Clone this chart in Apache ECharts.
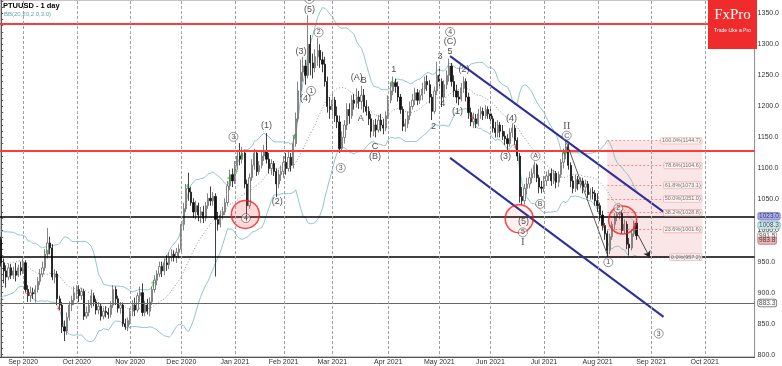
<!DOCTYPE html>
<html><head><meta charset="utf-8">
<script src="https://cdn.jsdelivr.net/npm/echarts@6/dist/echarts.min.js"></script>
<style>html,body{margin:0;padding:0;background:#fff}#c{width:782px;height:366px}</style>
</head><body><div id="c"></div>
<script>
const chartTitle = 'PTUUSD - 1 day';
const indicatorName = 'BB(20,20,2.0,3.0)';
const startDate = '2020-08-19';
const categoryCount = 310;
const holidays = ['2020-12-25', '2021-01-01', '2021-04-02'];
const monthNames = ['Jan','Feb','Mar','Apr','May','Jun','Jul','Aug','Sep','Oct','Nov','Dec'];

// [open, close, low, high]
const candles = [
[985,948,942,990],[948,935,915,955],[935,925,908,944],[925,940,920,947],[940,928,922,946],[928,935,922,942],[935,928,918,948],[928,940,925,945],[940,935,928,950],[935,948,930,955],
[948,905,900,952],[905,895,885,912],[895,900,885,910],[900,898,890,908],[898,905,884,912],[905,918,900,925],[918,930,912,938],[930,940,925,950],[940,962,935,970],[962,980,955,1004],
[980,972,962,990],[972,925,920,978],[925,930,915,938],[930,890,880,935],[890,880,872,895],[880,845,835,885],[845,838,822,855],[838,860,832,868],[860,880,855,886],[880,888,870,895],
[888,900,880,910],[900,905,890,912],[905,895,885,912],[895,902,888,908],[902,862,856,906],[862,868,858,878],[868,880,862,888],[880,895,875,905],[895,885,878,900],[885,872,865,890],
[872,878,865,885],[878,862,855,882],[862,870,857,876],[870,868,860,878],[868,865,858,875],[865,880,860,886],[880,905,875,912],[905,890,880,910],[890,875,868,895],[875,880,866,885],
[880,850,845,884],[850,845,840,858],[845,855,838,860],[855,870,848,875],[870,880,862,888],[880,872,862,892],[872,895,868,900],[895,900,885,910],[900,868,862,915],[868,880,862,887],
[880,870,865,890],[870,885,862,892],[885,905,880,910],[905,920,900,928],[920,930,912,936],[930,942,925,950],[942,935,925,950],[935,948,928,955],[948,945,935,960],[945,958,938,965],
[958,962,950,970],[962,958,950,968],[958,965,948,972],[965,970,955,978],[970,1010,965,1015],[1010,1035,1000,1045],[1035,1068,1030,1075],[1068,1062,1048,1093],[1062,1045,1040,1070],[1045,1030,1020,1052],
[1030,1040,1018,1048],[1040,1025,1015,1045],[1025,1030,1012,1038],[1030,1020,1012,1040],[1020,1040,1015,1046],[1040,1052,1035,1060],[1052,1048,1040,1071],[1048,1055,1040,1062],[1055,1018,926,1060],[1018,1010,1000,1030],
[1010,1025,1005,1032],[1025,1030,1018,1038],[1030,1045,1025,1052],[1045,1072,1040,1080],[1072,1090,1065,1098],[1090,1080,1070,1100],[1080,1105,1075,1112],[1105,1120,1098,1130],[1120,1115,1105,1141],[1115,1125,1108,1135],
[1125,1075,1068,1130],[1075,1040,1015,1082],[1040,1085,1035,1092],[1085,1105,1080,1115],[1105,1125,1098,1132],[1125,1095,1088,1130],[1095,1105,1090,1112],[1105,1120,1100,1130],[1120,1128,1112,1138],[1128,1115,1108,1157],
[1115,1100,1092,1125],[1100,1108,1090,1115],[1108,1095,1088,1112],[1095,1075,1054,1100],[1075,1090,1068,1098],[1090,1095,1080,1105],[1095,1110,1085,1120],[1110,1100,1090,1125],[1100,1118,1095,1128],[1118,1105,1095,1125],
[1105,1140,1100,1152],[1140,1180,1135,1190],[1180,1225,1175,1240],[1225,1255,1215,1275],[1255,1265,1240,1280],[1265,1250,1235,1275],[1250,1300,1245,1347],[1300,1270,1250,1315],[1270,1262,1245,1285],[1262,1280,1255,1292],
[1280,1290,1265,1310],[1290,1275,1262,1300],[1275,1268,1255,1288],[1268,1240,1232,1280],[1240,1200,1190,1248],[1200,1195,1180,1215],[1195,1210,1185,1221],[1210,1185,1175,1215],[1185,1175,1165,1200],[1175,1132,1125,1185],
[1132,1150,1127,1160],[1150,1170,1140,1178],[1170,1195,1162,1205],[1195,1185,1172,1205],[1185,1210,1180,1218],[1210,1205,1195,1220],[1205,1215,1198,1229],[1215,1208,1196,1225],[1208,1218,1195,1233],[1218,1200,1190,1228],
[1200,1192,1185,1210],[1192,1180,1170,1200],[1180,1160,1150,1188],[1160,1170,1152,1178],[1170,1162,1150,1180],[1162,1178,1158,1186],[1178,1170,1160,1188],[1170,1165,1155,1180],[1165,1185,1160,1192],[1185,1210,1180,1218],
[1210,1225,1205,1238],[1225,1238,1218,1248],[1238,1232,1222,1245],[1232,1215,1208,1240],[1215,1195,1188,1220],[1195,1168,1160,1200],[1168,1172,1159,1180],[1172,1185,1165,1192],[1185,1200,1178,1208],[1200,1210,1195,1220],
[1210,1222,1202,1230],[1222,1210,1202,1228],[1210,1218,1204,1226],[1218,1228,1210,1238],[1228,1240,1220,1248],[1240,1235,1225,1250],[1235,1215,1205,1242],[1215,1192,1178,1220],[1192,1225,1188,1232],[1225,1250,1218,1272],
[1250,1240,1230,1262],[1240,1215,1199,1245],[1215,1235,1210,1242],[1235,1250,1228,1258],[1250,1265,1240,1277],[1265,1240,1232,1270],[1240,1225,1215,1250],[1225,1215,1205,1235],[1215,1212,1202,1225],[1212,1230,1208,1238],
[1230,1240,1222,1248],[1240,1215,1208,1245],[1215,1190,1180,1222],[1190,1175,1168,1198],[1175,1180,1165,1190],[1180,1172,1165,1188],[1172,1188,1168,1196],[1188,1192,1180,1200],[1192,1185,1178,1198],[1185,1195,1180,1202],
[1195,1188,1180,1200],[1188,1180,1172,1199],[1180,1165,1158,1185],[1165,1158,1150,1175],[1158,1170,1150,1178],[1170,1160,1150,1175],[1160,1152,1146,1170],[1152,1148,1138,1160],[1148,1140,1130,1155],[1140,1158,1135,1165],
[1158,1165,1150,1173],[1165,1145,1138,1170],[1145,1120,1112,1150],[1120,1055,1045,1125],[1055,1048,1041,1070],[1048,1068,1042,1075],[1068,1075,1058,1085],[1075,1085,1068,1095],[1085,1092,1076,1100],[1092,1105,1085,1111],
[1105,1085,1078,1108],[1085,1070,1060,1090],[1070,1068,1060,1080],[1068,1080,1062,1088],[1080,1088,1072,1095],[1088,1092,1080,1098],[1092,1080,1072,1100],[1080,1092,1075,1098],[1092,1078,1068,1096],[1078,1090,1070,1095],
[1090,1110,1085,1115],[1110,1125,1100,1132],[1125,1135,1115,1144.7],[1135,1105,1098,1140],[1105,1080,1070,1110],[1080,1068,1060,1088],[1068,1082,1062,1090],[1082,1075,1065,1088],[1075,1080,1068,1086],[1080,1070,1060,1085],
[1070,1075,1062,1082],[1075,1058,1052,1080],[1058,1062,1050,1068],[1062,1060,1050,1070],[1060,1048,1040,1065],[1048,1040,1030,1060],[1040,1025,1015,1045],[1025,1008,1000,1032],[1008,995,985,1012],[995,968,957.2,1000],
[968,990,962,995],[990,1010,985,1015],[1010,1022,1002,1028],[1022,1026,1015,1030],[1026,1028,1018,1032],[1028,1000,995,1033],[1000,1010,995,1018],[1010,978,970,1015],[978,972,960,988],[972,995,968,1000],
[995,1012,990,1016],[1012,991.5,985,1015]
];
// closes before the first visible bar (to warm up the 20-bar Bollinger band)
const seedCloses = [915,920,925,918,925,905,910,925,955,985,1000,960,975,935,955,960,950,955,985];

const yLabelValues = [800,850,900,950,1000,1050,1100,1150,1200,1250,1300,1350];
const yMin = 796.3, yMax = 1371.4;
const redLevels = [1333, 1128];
const blackLevels = [1023, 957.2];
const grayLevels = [883.3];

const fibLevels = [1144.7, 1104.6, 1073.1, 1051.0, 1028.8, 1001.6, 957.2];
const fibLabels = ['100.0%(1144.7)','78.6%(1104.6)','61.8%(1073.1)','50.0%(1051.0)','38.2%(1028.8)','23.6%(1001.6)','0.0%(957.2)'];
const fibStart = 249, fibEnd = 288;

const priceTags = [
  [1023.0, '1023.0', '#9a9ae6', '#6a6ad0'],
  [1008.3, '1008.3', '#c5e6ea', '#6aaab3'],
  [991.5, '991.5', '#ffffff', '#777777'],
  [983.8, '983.8', '#e9a3a3', '#c06060'],
  [883.3, '883.3', '#ffffff', '#444444']
];

// [bar position, price, text]
const waveLabels = [
  [126.6,1356,'(5)'],[123.2,1288,'(3)'],[125,1212,'(4)'],[109,1169,'(1)'],[113.4,1046,'(2)'],
  [146.1,1247,'(A)'],[148.9,1241,'B'],[147.7,1180,'A'],[153.6,1136,'C'],[153.6,1119,'(B)'],
  [161.3,1260,'1'],[177.6,1167,'2'],[180.3,1280,'3'],[181.4,1205,'4'],[184.4,1304,'(C)'],[184.4,1288,'5'],
  [190.1,1260,'(2)'],[187.4,1191,'(1)'],[207.2,1119,'(3)'],[209.6,1181,'(4)'],[214.6,1014,'(5)']
];
const circledLabels = [
  [95.4,1151,'3'],[100.5,1020,'4'],[126.6,1373,'5'],[130.4,1319,'2'],[127.3,1225,'1'],[139.5,1101,'3'],
  [184.4,1320,'4'],[219.5,1120,'A'],[221.4,1043,'B'],[214.3,997,'5'],[232.3,1153,'C'],
  [253.5,1036,'2'],[249.4,949,'1'],[270.1,834,'3']
];
const romanLabels = [[214.3,981,'I'],[232.3,1169,'II']];

const channelUpper = [[184.4,1281],[272.1,1030]];
const channelLower = [[184.4,1117],[272.1,861]];
const waveLine = [[232.3,1141],[249.3,958]];
const arrowLine = [[261.6,993],[266.4,957]];
const redCircles = [[100.3,1026,0.25],[212.8,1019,0.1],[255.3,1017,0.12]];
const upSignals = [[19,965],[62.4,915],[76.6,1071],[93.7,1084],[96.5,1095],[98.7,1120],[120.5,1152],[160.3,1237],[231.3,1124]];
const downSignals = [[10.8,899],[23.7,875],[193.5,1183],[211.3,1135],[247.4,1009]];

// ---------- derived ----------
function buildDates() {
  const out = [];
  const d = new Date(startDate + 'T00:00:00Z');
  while (out.length < categoryCount) {
    const wd = d.getUTCDay();
    const s = d.toISOString().slice(0, 10);
    if (wd !== 0 && wd !== 6 && holidays.indexOf(s) < 0) out.push(s);
    d.setUTCDate(d.getUTCDate() + 1);
  }
  return out;
}
const dates = buildDates();
const monthStart = dates.map((s, i) => i > 0 && s.slice(0, 7) !== dates[i - 1].slice(0, 7));
const monthStartIdx = [];
monthStart.forEach((m, i) => { if (m) monthStartIdx.push(i); });
function fmtMonth(s) { return monthNames[+s.slice(5, 7) - 1] + ' ' + s.slice(0, 4); }

const allCloses = seedCloses.concat(candles.map(c => c[1]));
const bbUp = [], bbMid = [], bbLow = [];
for (let i = 0; i < candles.length; i++) {
  const end = i + seedCloses.length;
  const win = allCloses.slice(Math.max(0, end - 19), end + 1);
  const m = win.reduce((a, b) => a + b, 0) / win.length;
  const sd = Math.sqrt(win.reduce((a, b) => a + (b - m) * (b - m), 0) / win.length);
  bbMid.push(+m.toFixed(2)); bbUp.push(+(m + 2 * sd).toFixed(2)); bbLow.push(+(m - 2 * sd).toFixed(2));
}
const yTicks = [];
for (let v = 800; v <= 1370; v += 10) yTicks.push(v);

const FONT = 'Liberation Sans, Arial, sans-serif';
const chart = echarts.init(document.getElementById('c'), null, { renderer: 'canvas' });

const hLines = [];
redLevels.forEach(v => hLines.push({ yAxis: v, lineStyle: { color: '#ff3a3a', width: 2, type: 'solid' } }));
blackLevels.forEach(v => hLines.push({ yAxis: v, lineStyle: { color: '#000', width: 1.5, type: 'solid' } }));
grayLevels.forEach(v => hLines.push({ yAxis: v, lineStyle: { color: '#666', width: 1, type: 'solid' } }));

const fibLinePairs = fibLevels.map(v => [{ coord: [fibStart, v] }, { coord: [fibEnd, v] }]);

const baseGraphic = [
  { type: 'text', left: 3, top: 2, z: 100, style: { text: chartTitle, font: 'bold 7.5px Liberation Sans, Arial, sans-serif', fill: '#000' } },
  { type: 'text', left: 4, top: 11, z: 100, style: { text: indicatorName, font: '6px Liberation Sans, Arial, sans-serif', fill: '#6aa6ad' } },
  { type: 'group', left: 708, top: 0, z: 100, children: [
    { type: 'rect', z: 100, shape: { x: 0, y: 0, width: 49, height: 49 }, style: { fill: '#ef2b2b' } },
    { type: 'text', z: 101, x: 24.5, y: 23, style: { text: 'FxPro', font: '15px Liberation Serif, DejaVu Serif, serif', fill: '#fff', align: 'center', verticalAlign: 'bottom' } },
    { type: 'text', z: 101, x: 24.5, y: 31, style: { text: 'Trade Like a Pro', font: '5px Liberation Sans, Arial, sans-serif', fill: '#fff', align: 'center', verticalAlign: 'middle' } }
  ] }
];

const option = {
  animation: false,
  backgroundColor: '#fff',
  grid: { left: 0, right: 22, top: 0, bottom: 9, show: true, borderColor: '#8a8a8a', borderWidth: 1, backgroundColor: 'rgba(0,0,0,0)' },
  xAxis: [
    { type: 'category', data: dates, boundaryGap: true,
      axisLine: { lineStyle: { color: '#555' } },
      axisTick: { show: false },
      axisLabel: { interval: (i) => monthStart[i], formatter: fmtMonth, fontSize: 7, color: '#333', margin: 2, fontFamily: FONT },
      splitLine: { show: false } },
    { type: 'value', min: -0.5, max: categoryCount - 0.5, show: false, splitLine: { show: false } }
  ],
  yAxis: {
    type: 'value', position: 'right', min: yMin, max: yMax,
    axisLine: { show: true, lineStyle: { color: '#555' } },
    axisTick: { show: true, length: 2, customValues: yTicks, lineStyle: { color: '#555' } },
    axisLabel: { customValues: yLabelValues, formatter: v => v.toFixed(1), fontSize: 7, color: '#333', margin: 3, fontFamily: FONT },
    splitLine: { show: false }
  },
  series: [
    { // fib box + fib lines
      type: 'line', xAxisIndex: 1, data: [], silent: true, z: 1,
      markArea: { silent: true, itemStyle: { color: 'rgba(238,165,165,0.28)' },
        data: [[{ coord: [fibStart, fibLevels[0]] }, { coord: [fibEnd, fibLevels[fibLevels.length - 1]] }]] },
      markLine: { silent: true, symbol: ['none', 'none'], label: { show: false },
        lineStyle: { color: '#e07878', width: 0.8, type: [2, 2] }, data: fibLinePairs }
    },
    { // horizontal levels
      type: 'line', xAxisIndex: 1, data: [], silent: true, z: 2,
      markLine: { silent: true, symbol: ['none', 'none'], label: { show: false }, data: hLines }
    },
    { type: 'line', name: 'bbUp', data: bbUp, showSymbol: false, silent: true, z: 3, lineStyle: { color: '#86c0c2', width: 0.9 } },
    { type: 'line', name: 'bbLow', data: bbLow, showSymbol: false, silent: true, z: 3, lineStyle: { color: '#86c0c2', width: 0.9 } },
    { type: 'line', name: 'bbMid', data: bbMid, showSymbol: false, silent: true, z: 3, lineStyle: { color: '#777', width: 0.8, type: [1, 2] } },
    { type: 'candlestick', data: candles, barWidth: '70%', z: 4,
      itemStyle: { color: '#ffffff', color0: '#111111', borderColor: '#666666', borderColor0: '#111111', borderWidth: 0.8 } },
    { type: 'line', xAxisIndex: 1, data: channelUpper, showSymbol: false, silent: true, z: 5, lineStyle: { color: '#2e2e9e', width: 2 } },
    { type: 'line', xAxisIndex: 1, data: channelLower, showSymbol: false, silent: true, z: 5, lineStyle: { color: '#2e2e9e', width: 2 } },
    { type: 'line', xAxisIndex: 1, data: waveLine, showSymbol: false, silent: true, z: 5, lineStyle: { color: '#333', width: 0.8 } },
    { type: 'line', xAxisIndex: 1, data: [], silent: true, z: 5,
      markLine: { silent: true, symbol: ['none', 'arrow'], symbolSize: 6, label: { show: false },
        lineStyle: { color: '#222', width: 0.8, type: 'solid' },
        data: [[{ coord: arrowLine[0] }, { coord: arrowLine[1] }]] } },
    { type: 'scatter', xAxisIndex: 1, silent: true, z: 6, symbol: 'circle', symbolSize: 28,
      data: redCircles.map(c => ({ value: [c[0], c[1]], itemStyle: { color: 'rgba(255,70,70,' + c[2] + ')' } })),
      itemStyle: { borderColor: '#f21c1c', borderWidth: 1.5 } },
    { type: 'scatter', xAxisIndex: 1, silent: true, z: 7, symbol: 'path://M2,0H3V2H5V3H3V6H2V3H0V2H2Z', symbolSize: [4, 5],
      data: upSignals, itemStyle: { color: '#19a019' } },
    { type: 'scatter', xAxisIndex: 1, silent: true, z: 7, symbol: 'path://M2,0H3V3H5V4H3V6H2V4H0V3H2Z', symbolSize: [4, 5],
      data: downSignals, itemStyle: { color: '#e02a2a' } },
    { // fib labels
      type: 'scatter', xAxisIndex: 1, silent: true, z: 8, symbolSize: 1, itemStyle: { color: 'rgba(0,0,0,0)' },
      data: fibLevels.map((v, i) => ({ value: [fibEnd, v], name: fibLabels[i] })),
      label: { show: true, position: 'left', distance: 0, formatter: p => p.name, fontSize: 5.5, color: '#555', fontFamily: FONT,
        backgroundColor: 'rgba(255,246,246,0.95)', borderColor: '#e3a0a0', borderWidth: 0.6, borderRadius: 1, padding: [0, 1] } },
    { // wave labels
      type: 'scatter', xAxisIndex: 1, silent: true, z: 9, symbolSize: 1, itemStyle: { color: 'rgba(0,0,0,0)' },
      data: waveLabels.map(w => ({ value: [w[0], w[1]], name: w[2] })),
      label: { show: true, position: 'inside', formatter: p => p.name, fontSize: 9, color: '#222', fontFamily: FONT } },
    { // circled labels
      type: 'scatter', xAxisIndex: 1, silent: true, z: 9, symbol: 'circle', symbolSize: 9, clip: false,
      itemStyle: { color: 'rgba(255,255,255,0.6)', borderColor: '#444', borderWidth: 0.7 },
      data: circledLabels.map(w => ({ value: [w[0], w[1]], name: w[2] })),
      label: { show: true, position: 'inside', formatter: p => p.name, fontSize: 7, color: '#222', fontFamily: FONT } },
    { // roman labels
      type: 'scatter', xAxisIndex: 1, silent: true, z: 9, symbolSize: 1, itemStyle: { color: 'rgba(0,0,0,0)' },
      data: romanLabels.map(w => ({ value: [w[0], w[1]], name: w[2] })),
      label: { show: true, position: 'inside', formatter: p => p.name, fontSize: 11, color: '#333', fontFamily: 'Liberation Serif, DejaVu Serif, serif' } },
    { // price tags on the axis
      type: 'scatter', xAxisIndex: 1, silent: true, z: 10, symbolSize: 1, clip: false, itemStyle: { color: 'rgba(0,0,0,0)' },
      data: priceTags.map(t => ({ value: [categoryCount - 0.5, t[0]], name: t[1],
        label: { backgroundColor: t[2], borderColor: t[3] } })),
      label: { show: true, position: 'right', distance: 3, formatter: p => p.name, fontSize: 6.5, color: '#222', fontFamily: FONT,
        borderWidth: 0.7, borderRadius: 2, padding: [0, 1] } }
  ],
  graphic: { elements: baseGraphic }
};
chart.setOption(option);

// month gridlines placed through the library's own scales
const gridRect = chart.getModel().getComponent('grid', 0).coordinateSystem.getRect();
const gTop = Math.round(gridRect.y) + 1;
const gBottom = Math.round(gridRect.y + gridRect.height);
const gridGraphic = monthStartIdx.map(i => {
  const x = Math.round(chart.convertToPixel({ xAxisIndex: 0 }, i)) + 0.5;
  return { type: 'polyline', silent: true, z: 100, zlevel: 0,
    shape: { points: [[x, gTop], [x, (gTop + gBottom) / 2], [x, gBottom]] },
    style: { stroke: '#a0a0a0', fill: null, lineWidth: 1, lineDash: [3, 2] } };
});
chart.setOption({ graphic: { elements: baseGraphic.concat(gridGraphic) } }, { replaceMerge: ['graphic'] });
</script>
</body></html>
